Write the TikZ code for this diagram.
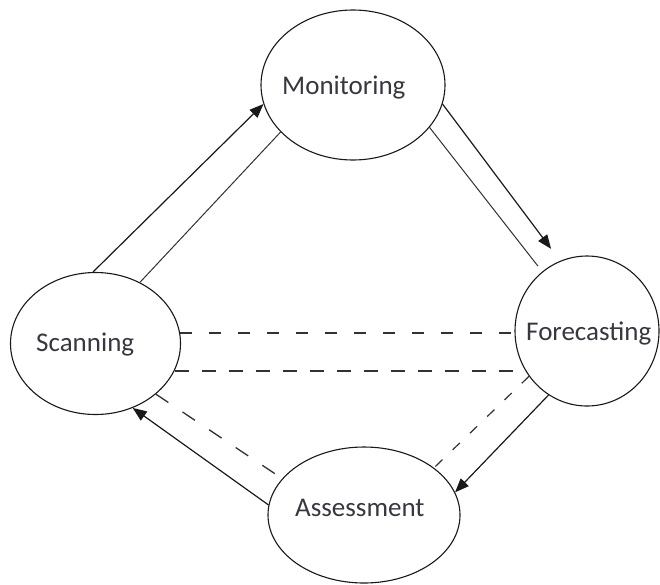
\documentclass[tikz,border=0pt]{standalone}
\usepackage{fontspec}
\setmainfont{Carlito}
\usetikzlibrary{arrows.meta,shapes.geometric}
\definecolor{inkline}{RGB}{25,25,25}
\definecolor{inkthin}{RGB}{50,50,50}
\definecolor{inktext}{RGB}{55,55,65}
\begin{document}
\begin{tikzpicture}[x=1pt,y=-1pt,
  stage/.style={draw=inkline, line width=1.1pt, ellipse, inner sep=0pt},
  lbl/.style={anchor=base west, inner sep=0pt, text=inktext,
              font=\fontsize{27}{32}\selectfont},
  flow/.style={draw=inkline, line width=1.2pt,
               -{Triangle[length=14pt,width=11pt]}},
  plain/.style={draw=inkthin, line width=1pt},
  dashU/.style={draw=inkthin, line width=1.6pt, dash pattern=on 12pt off 17pt},
  dashL/.style={draw=inkthin, line width=1.6pt, dash pattern=on 14pt off 13pt},
  dashD/.style={draw=inkthin, line width=1.3pt, dash pattern=on 15pt off 17pt},
  dashR/.style={draw=inkthin, line width=1.2pt, dash pattern=on 10pt off 14pt}]
  % canvas
  \useasboundingbox (0,0) rectangle (660,584);
  \fill[white] (0,0) rectangle (660,584);

  % the four stages
  \node[stage, minimum width=184pt, minimum height=150pt] (mon)    at (353,85)    {};
  \node[stage, minimum width=170pt, minimum height=142pt] (scan)   at (95.5,343.5) {};
  \node[stage, minimum width=144pt, minimum height=150pt] (fore)   at (587,331)   {};
  \node[stage, minimum width=192pt, minimum height=136pt] (assess) at (364,515)   {};

  \node[lbl] (monT)    at (282,94)  {Monitoring};
  \node[lbl] (scanT)   at (36,351)  {Scanning};
  \node[lbl] (foreT)   at (526,340) {Forecasting};
  \node[lbl] (assessT) at (295,516) {Assessment};

  % cycle: Scanning -> Monitoring -> Forecasting -> Assessment -> Scanning
  \draw[flow]  (scan.92) -- (mon.192);
  \draw[plain] (scan.54) -- (mon.213);

  \draw[flow, shorten >=15pt] (mon.-12) -- (fore.111);
  \draw[plain, shorten >=7pt] (mon.-29) -- (fore.127);

  \draw[flow]  (fore.239) -- (assess.14);
  \draw[dashR] (fore.218) -- (assess.34);

  \draw[flow]  (assess.174) -- (scan.-60);
  \draw[dashD] (scan.-40) -- (assess.156);

  % dashed links between Scanning and Forecasting
  \draw[dashU] (scan.7)   -- (scan.7 -| fore.west);
  \draw[dashL] (scan.-19) -- (scan.-19 -| fore.west);
\end{tikzpicture}
\end{document}
